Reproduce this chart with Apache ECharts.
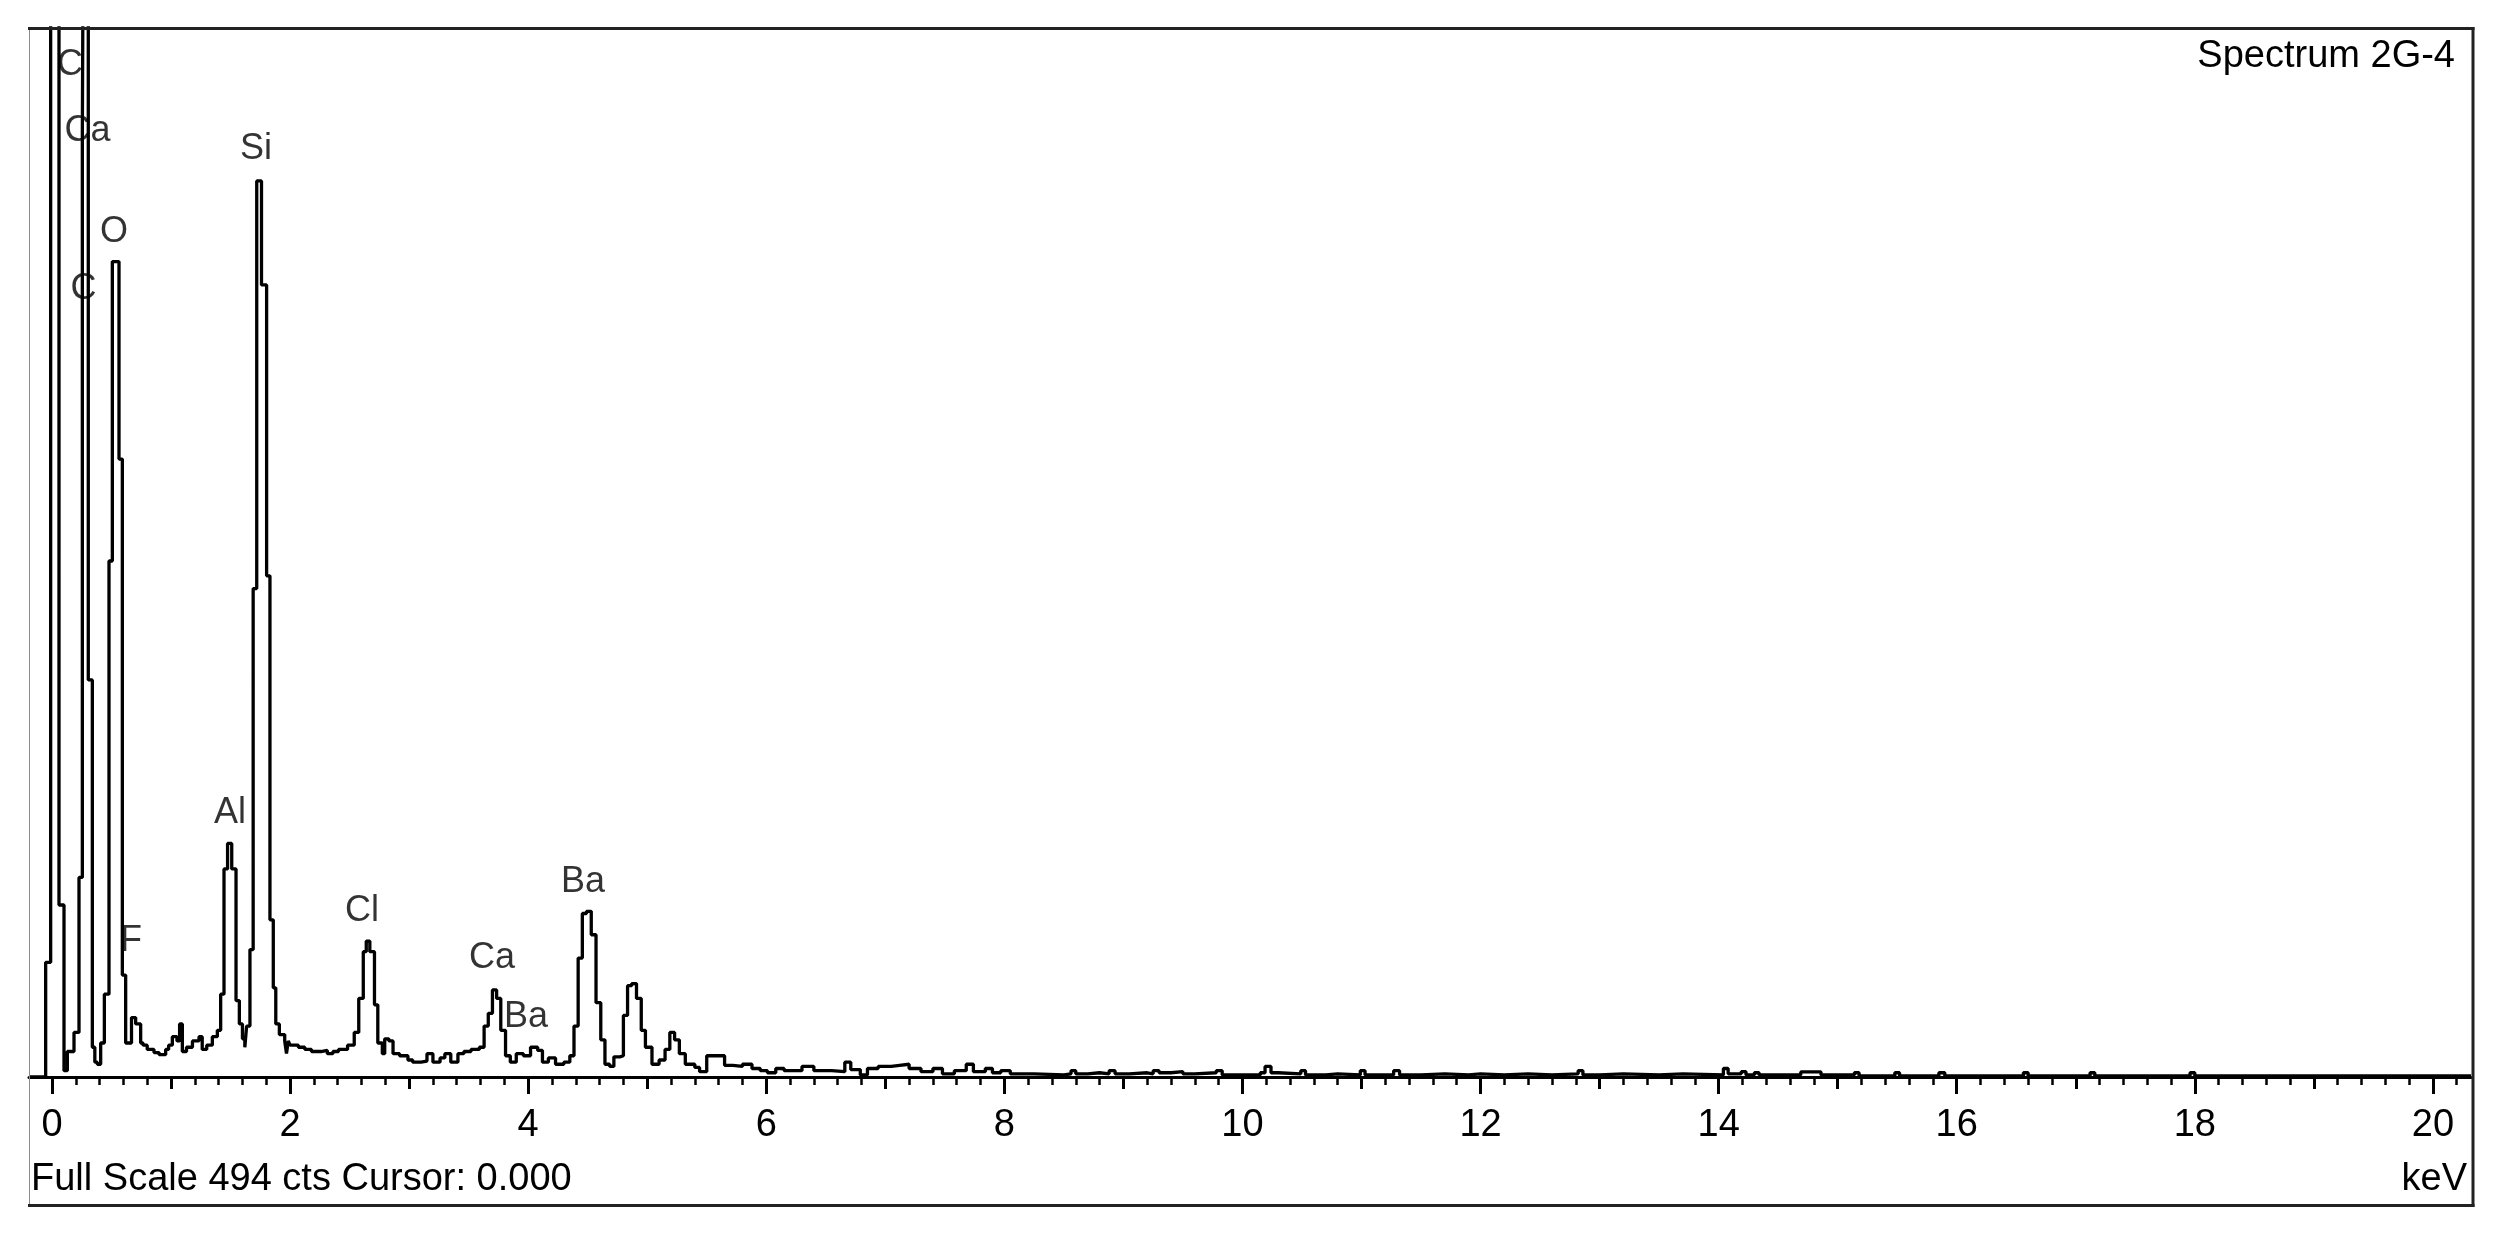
<!DOCTYPE html>
<html>
<head>
<meta charset="utf-8">
<script src="https://cdn.jsdelivr.net/npm/echarts@6/dist/echarts.min.js"></script>
<style>
html,body{margin:0;padding:0;background:#fff;}
#chart{width:2507px;height:1238px;}
</style>
</head>
<body>
<div id="chart"></div>
<script>
// ---- spectrum data (left edge of each channel step, keV) ----
const energyKeV = [
 -0.193,-0.053,-0.011,0.059,0.101,0.129,0.185,0.227,0.255,0.267,0.305,0.339,0.36,0.381,0.409,0.44,
 0.479,0.507,0.563,0.591,0.619,0.668,0.703,0.745,0.765,0.80,0.857,0.90,0.955,0.98,1.011,1.05,1.072,
 1.095,1.13,1.18,1.235,1.262,1.30,1.347,1.389,1.417,1.445,1.475,1.51,1.546,1.574,1.60,1.62,1.635,
 1.663,1.69,1.72,1.76,1.803,1.831,1.859,1.88,1.91,1.955,1.97,1.985,2.0,2.07,2.124,2.18,2.26,2.313,
 2.36,2.407,2.483,2.539,2.577,2.615,2.64,2.67,2.709,2.737,2.775,2.795,2.83,2.865,2.92,2.99,3.03,
 3.1,3.15,3.2,3.26,3.30,3.35,3.41,3.46,3.52,3.59,3.63,3.665,3.70,3.735,3.77,3.81,3.85,3.90,3.96,
 4.02,4.08,4.12,4.17,4.23,4.30,4.35,4.385,4.42,4.455,4.49,4.53,4.57,4.61,4.645,4.685,4.72,4.77,
 4.80,4.835,4.87,4.91,4.95,4.985,5.04,5.10,5.15,5.19,5.23,5.27,5.32,5.40,5.44,5.50,5.60,5.65,5.72,
 5.80,5.88,5.95,6.01,6.08,6.15,6.30,6.40,6.55,6.66,6.71,6.79,6.85,6.94,7.05,7.12,7.2,7.3,7.4,7.48,
 7.58,7.68,7.74,7.84,7.9,7.97,8.05,8.25,8.5,8.56,8.6,8.7,8.8,8.88,8.93,9.05,9.2,9.25,9.3,9.4,9.5,
 9.6,9.78,9.83,10.0,10.15,10.19,10.24,10.3,10.49,10.53,10.7,10.8,10.99,11.03,11.27,11.32,11.5,11.7,
 11.9,12.0,12.2,12.4,12.6,12.82,12.86,13.0,13.2,13.5,13.7,14.04,14.08,14.19,14.23,14.3,14.34,14.69,
 14.86,15.14,15.18,15.48,15.52,15.85,15.9,16.56,16.6,17.12,17.16,17.96,18.0,20.32
];
const counts = [
 0,54,600,81,3,12,21,94,444,600,187,14,7,6,16,39,
 243,384,291,48,16,28,25,16,15,13,11.5,10.5,13,15,19,17,25,
 12,14,17,19,13,15,19,22,39,98,110,98,36,25,18,14,24,
 60,230,422,373,236,74,42,25,20,17,11,17,15,14,13,12,12.5,11,
 12,13,15,21,37,59,64,59,34,16,11,18,17,11,10,8,7,
 7.5,11,7,9,11,7,11,12,13,14,24,30,41,37,22,10,7,11,10,
 14,12.5,7,9,6,7,10,24,56,77,78,67,35,17.5,6,5,9.5,10,
 29,43,44,37,22,14,6,8,13,21,17.5,11,6,4.5,2.5,10,10,5.5,5,
 6,4,3,2,4,3,5,3,2.5,7,3.5,1,4,5,5.5,6,4,2.5,4,1.5,
 3,6,2.5,4,2,3,1.5,1,1.5,3,1.5,2,1.5,3,1.5,2,1.5,3,2,2.5,1.5,
 2,3,1,1,2,5,2,1.5,3,1,1.5,1,3,1,3,1,1.5,1,
 1.5,1,1.5,1,1.5,3,1,1.5,1,1.5,1,4,1.5,2.5,1,2,1,2.4,
 1,2,0.5,2,0.5,2,0.5,2,0.5,2,0.5,2,0.5,0.5
];
const fullScale = 494;
const majorTicks = [0,2,4,6,8,10,12,14,16,18,20];
const tickLabels = ['0','2','4','6','8','10','12','14','16','18','20'];
const midTicks = [1,3,5,7,9,11,13,15,17,19];
// ---- element labels ----
const labelNames  = ['C','Ca','C','O','F','Al','Si','Cl','Ca','Ba','Ba'];
const labelEnergy = [0.151,0.298,0.265,0.521,0.664,1.495,1.714,2.604,3.696,3.981,4.46];
const labelCounts = [476.6,445.5,371.1,397.9,64,124.3,437,78.2,56,28.3,91.8];

const minorTicks = [];
for (let i = 0; i <= 101; i++) minorTicks.push(Math.round(i * 2) / 10);

const FONT = 'Liberation Sans, Arial, Helvetica, sans-serif';
const spectrum = energyKeV.map((e, i) => [e, counts[i]]);
const labelData = labelNames.map((n, i) => ({ name: n, value: [labelEnergy[i], labelCounts[i]] }));

const xBase = { type: 'value', min: -0.193, max: 20.32, gridIndex: 0, position: 'bottom', splitLine: { show: false } };

const chart = echarts.init(document.getElementById('chart'), null, { renderer: 'canvas' });
chart.setOption({
  animation: false,
  backgroundColor: '#fff',
  grid: { left: 29, right: 36, top: 28, bottom: 161, outerBoundsMode: 'none' },
  title: [
    { text: 'Spectrum 2G-4', right: 52, top: 38, padding: 0,
      textStyle: { fontSize: 38, lineHeight: 38, fontWeight: 'normal', color: '#000', fontFamily: FONT } },
    { text: 'Full Scale ' + fullScale + ' cts Cursor: 0.000', left: 31, top: 1161, padding: 0,
      textStyle: { fontSize: 38, lineHeight: 38, fontWeight: 'normal', color: '#000', fontFamily: FONT } },
    { text: 'keV', right: 40, top: 1161, padding: 0,
      textStyle: { fontSize: 38, lineHeight: 38, fontWeight: 'normal', color: '#000', fontFamily: FONT } }
  ],
  xAxis: [
    Object.assign({}, xBase, {
      axisLine: { show: true, onZero: false, lineStyle: { color: '#000', width: 3 } },
      axisTick: { show: true, customValues: majorTicks, length: 17, lineStyle: { color: '#000', width: 3 } },
      axisLabel: { show: true, customValues: majorTicks, margin: 30, fontSize: 38, color: '#000', fontFamily: FONT,
                   formatter: v => tickLabels[majorTicks.indexOf(Math.round(v))] }
    }),
    Object.assign({}, xBase, {
      axisLine: { show: false, onZero: false },
      axisTick: { show: true, customValues: midTicks, length: 12, lineStyle: { color: '#000', width: 3 } },
      axisLabel: { show: false }
    }),
    Object.assign({}, xBase, {
      axisLine: { show: false, onZero: false },
      axisTick: { show: true, customValues: minorTicks, length: 8, lineStyle: { color: '#000', width: 2.5 } },
      axisLabel: { show: false }
    })
  ],
  yAxis: { type: 'value', min: 0, max: fullScale, show: false, splitLine: { show: false } },
  graphic: [
    { type: 'line', z: 100, shape: { x1: 29.5, y1: 27, x2: 29.5, y2: 1207 }, style: { stroke: '#8c8c8c', lineWidth: 1 } },
    { type: 'line', z: 100, shape: { x1: 28, y1: 28.5, x2: 2474.5, y2: 28.5 }, style: { stroke: '#222', lineWidth: 3 } },
    { type: 'line', z: 100, shape: { x1: 2473, y1: 27, x2: 2473, y2: 1207 }, style: { stroke: '#222', lineWidth: 3 } },
    { type: 'line', z: 100, shape: { x1: 28, y1: 1205.5, x2: 2474.5, y2: 1205.5 }, style: { stroke: '#222', lineWidth: 3 } }
  ],
  series: [
    { type: 'line', xAxisIndex: 0, yAxisIndex: 0, data: spectrum, step: 'end', symbol: 'none', clip: true,
      lineStyle: { color: '#000', width: 3.3 }, silent: true },
    { type: 'scatter', xAxisIndex: 0, yAxisIndex: 0, data: labelData, symbolSize: 1, silent: true,
      itemStyle: { color: 'rgba(0,0,0,0)' },
      label: { show: true, position: 'inside', formatter: '{b}', fontSize: 36, color: '#000', fontFamily: FONT } }
  ]
});
</script>
</body>
</html>
